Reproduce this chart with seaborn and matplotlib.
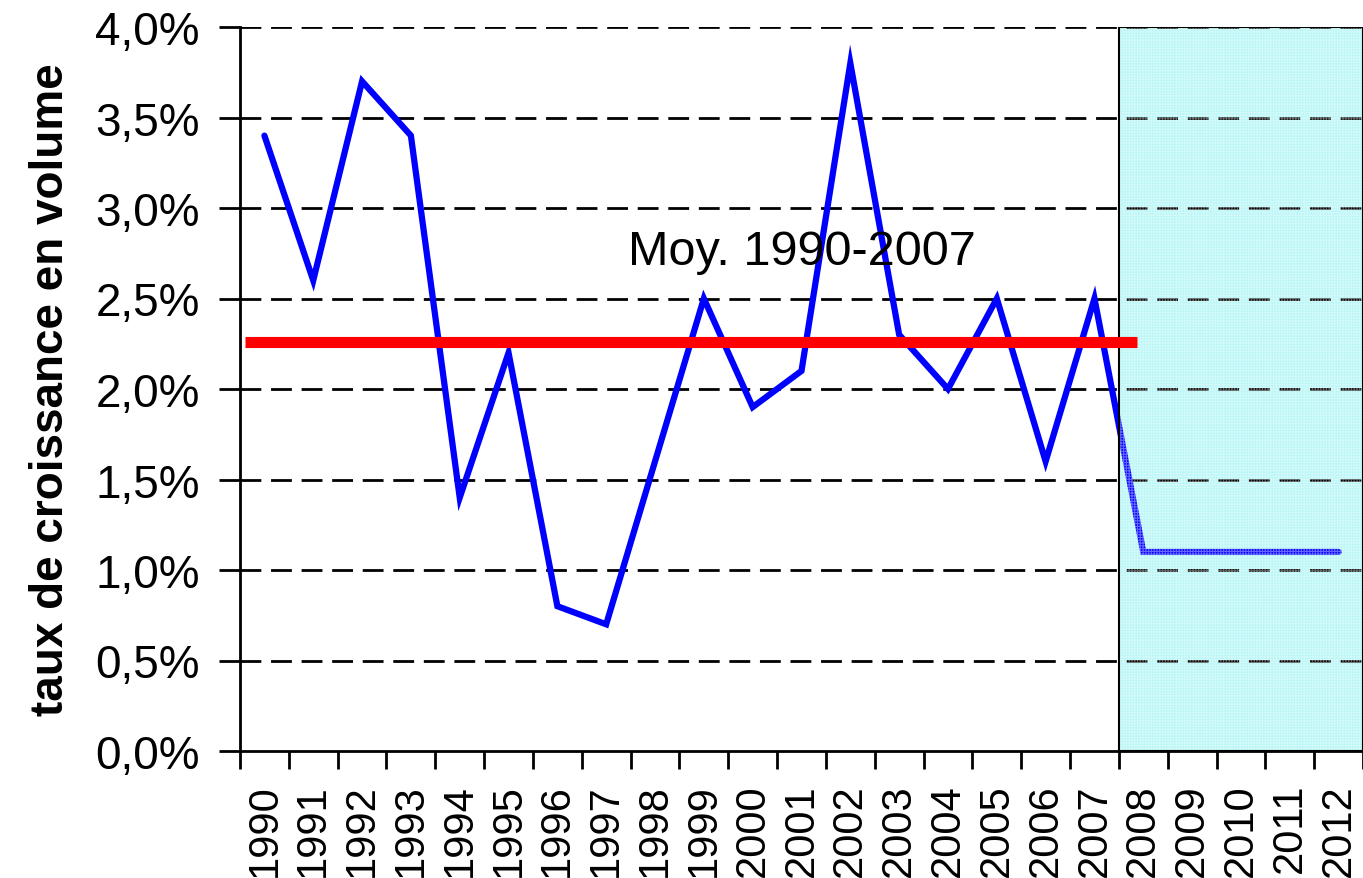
import matplotlib
matplotlib.use("Agg")
import matplotlib.pyplot as plt
import seaborn as sns
import pandas as pd
import numpy as np

years = [str(y) for y in range(1990, 2013)]
growth = [3.4, 2.6, 3.7, 3.4, 1.4, 2.2, 0.8, 0.7, 1.6, 2.5, 1.9, 2.1, 3.8,
          2.3, 2.0, 2.5, 1.6, 2.5, 1.1, 1.1, 1.1, 1.1, 1.1]
mean_value = 2.26
mean_label = "Moy. 1990-2007"
ylabel = "taux de croissance en volume"
yticks = [0.0, 0.5, 1.0, 1.5, 2.0, 2.5, 3.0, 3.5, 4.0]
ytick_labels = ["0,0%", "0,5%", "1,0%", "1,5%", "2,0%", "2,5%", "3,0%", "3,5%", "4,0%"]
forecast_start = "2008"

sns.set_theme(style="white")
plt.rcParams["font.family"] = ["Liberation Sans", "DejaVu Sans"]
plt.rcParams["hatch.linewidth"] = 0.8
plt.rcParams["text.color"] = "black"
plt.rcParams["xtick.color"] = "black"
plt.rcParams["ytick.color"] = "black"
plt.rcParams["axes.labelcolor"] = "black"

df = pd.DataFrame({"pos": np.arange(len(years)), "year": years, "growth": growth})

fig = plt.figure(figsize=(13.63, 8.79), dpi=100)
ax = fig.add_axes([240 / 1363, 1 - 752 / 879, 1 - 240 / 1363, (752 - 28) / 879])

fs = years.index(forecast_start) - 0.5
# forecast shaded area
ax.axvspan(fs, len(years) - 0.5, facecolor="#b4f6f6", edgecolor="none", zorder=0)

# gridlines
for v in yticks[1:]:
    ax.axhline(v, color="black", lw=2.0, ls=(0, (7.5, 3.5)), zorder=1)

sns.lineplot(data=df, x="pos", y="growth", color="#0000ff", lw=4.5, ax=ax,
             zorder=3, solid_joinstyle="miter")

# texture overlay in forecast area
ax.axvspan(fs, len(years) - 0.5, facecolor="none", edgecolor="white",
           hatch="++++++", linewidth=0, zorder=4, alpha=0.4)
ax.axvspan(fs, len(years) - 0.5, facecolor="none", edgecolor="black",
           linewidth=1.5, zorder=4)

ax.hlines(mean_value, -0.4, 17.87, color="#ff0000", lw=8, zorder=5)
ax.text(7.45, 2.69, mean_label, fontsize=35, ha="left", va="baseline",
        color="black", zorder=6)

ax.set_xlim(-0.5, len(years) - 0.5)
ax.set_ylim(0, 4.0)
ax.set_yticks(yticks)
ax.set_yticklabels(ytick_labels, fontsize=33)
ax.set_xticks(np.arange(len(years)))
ax.set_xticklabels(years, rotation=90, fontsize=30)
ax.set_xticks(np.arange(len(years) + 1) - 0.5, minor=True)
ax.tick_params(axis="x", which="major", length=0, pad=23)
ax.tick_params(axis="x", which="minor", length=13, width=2, direction="out",
               color="black", bottom=True)
ax.tick_params(axis="y", which="major", length=15, width=2, direction="out",
               color="black", left=True, pad=14)
ax.set_xlabel("")
ax.set_ylabel(ylabel, fontsize=33, fontweight="bold", labelpad=16)

for s in ["top", "right"]:
    ax.spines[s].set_visible(False)
for s in ["left", "bottom"]:
    ax.spines[s].set_color("black")
    ax.spines[s].set_linewidth(2)
    ax.spines[s].set_zorder(7)

fig.savefig("out.png", dpi=100)
